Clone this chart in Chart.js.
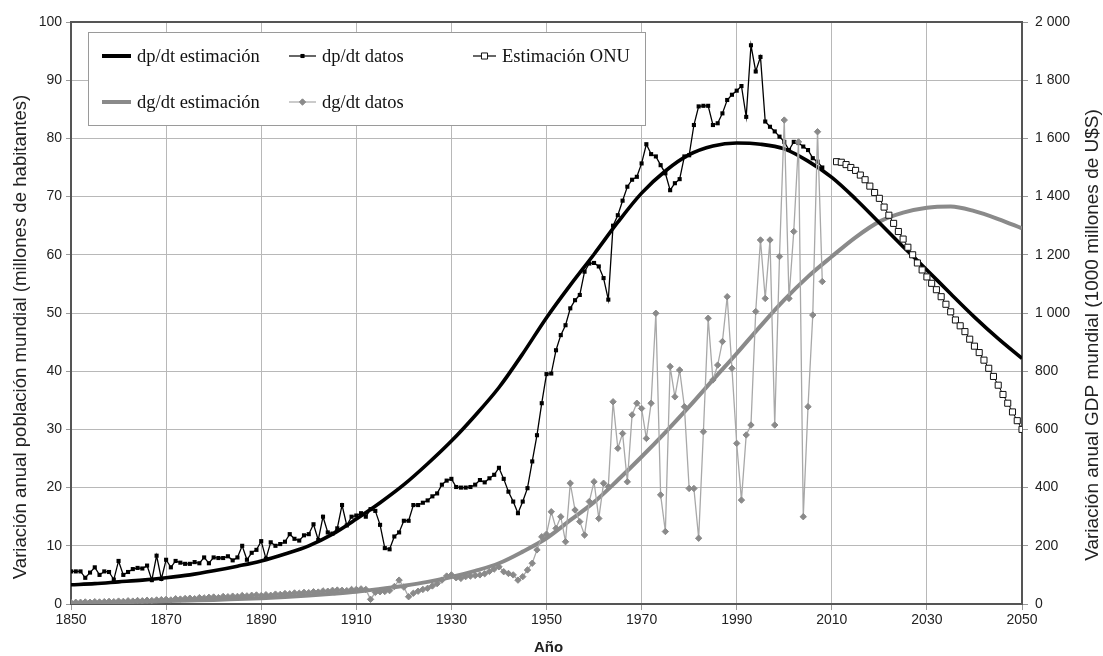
<!DOCTYPE html>
<html><head><meta charset="utf-8">
<script src="https://cdn.jsdelivr.net/npm/chart.js@4.4.0/dist/chart.umd.min.js"></script>
<style>html,body{margin:0;padding:0;background:#fff;}#wrap{width:1103px;height:656px;}</style>
</head><body><div id="wrap"><canvas id="c" width="1103" height="656"></canvas></div>
<script>
// ---- Data ----
const xTickYears = [1850,1870,1890,1910,1930,1950,1970,1990,2010,2030,2050];
const leftTicks = [0,10,20,30,40,50,60,70,80,90,100];
const rightTicks = [0,200,400,600,800,1000,1200,1400,1600,1800,2000];

const estYears = [1850,1855,1860,1865,1870,1875,1880,1885,1890,1895,1900,1905,1910,1915,1920,1925,1930,1935,1940,1945,1950,1955,1960,1965,1970,1975,1980,1985,1990,1995,2000,2005,2010,2015,2020,2025,2030,2035,2040,2045,2050];
const popEstValues = [3.3,3.5,3.8,4.1,4.5,5.0,5.7,6.5,7.4,8.6,10.0,12.0,14.6,17.4,20.5,24.1,28.0,32.4,37.2,43.0,49.2,54.8,60.1,65.6,70.6,74.4,77.2,78.7,79.2,79.0,78.2,76.1,73.3,69.6,65.5,61.4,57.4,53.3,49.3,45.6,42.2];
const gdpEstValues = [3,4,6,8,10,12,14,17,20,24,29,35,42,52,63,76,93,114,140,180,226,288,350,426,506,590,678,770,861,955,1045,1125,1194,1260,1314,1345,1362,1366,1350,1323,1291];

const dataStartYear = 1850;
const popDataValues = [
 5.6,5.6,5.6,4.5,5.4,6.3,5.0,5.6,5.5,4.2,
 7.4,5.0,5.5,6.0,6.2,6.1,6.6,4.1,8.3,4.3,
 7.6,6.3,7.4,7.1,6.9,6.9,7.2,7.0,8.0,7.0,
 8.0,7.9,7.9,8.2,7.5,8.0,10.0,7.6,8.8,9.3,
 10.8,7.8,10.6,10.0,10.3,10.7,12.0,11.2,10.9,11.8,
 12.0,13.7,11.0,15.0,12.3,12.1,13.0,17.0,13.5,15.0,
 15.2,15.6,15.0,16.3,16.0,13.6,9.6,9.4,11.6,12.3,
 14.3,14.3,17.0,17.0,17.4,17.8,18.5,19.0,20.5,21.2,
 21.5,20.1,20.0,20.0,20.1,20.5,21.3,20.9,21.6,22.2,
 23.4,21.5,19.3,17.6,15.6,17.6,19.9,24.5,29.0,34.5,
 39.5,39.6,43.6,46.2,47.9,50.8,52.2,53.1,57.1,58.5,
 58.6,58.0,56.0,52.3,65.0,66.8,69.3,71.7,72.9,73.4,
 75.7,79.0,77.3,76.9,75.4,74.0,71.1,72.3,73.0,76.9,
 77.1,82.3,85.5,85.6,85.6,82.3,82.6,84.3,86.6,87.5,
 88.2,89.0,83.7,96.0,91.5,94.0,82.9,82.0,81.2,80.3,
 79.4,78.0,79.4,79.2,78.6,78.0,76.6,76.0,75.0];
const gdpDataValues = [
 5,6,6,7,6,8,7,8,9,8,
 10,9,11,10,12,11,13,12,14,15,
 16,14,18,17,19,20,18,22,21,23,
 24,22,26,25,27,26,29,28,30,31,
 29,32,30,34,33,36,35,38,37,40,
 39,42,41,45,44,47,48,47,46,50,
 50,52,50,16,40,42,43,46,60,82,
 58,25,37,44,50,54,62,70,82,96,
 100,90,88,94,96,98,100,104,112,120,
 128,111,105,100,82,94,117,140,186,231,
 240,317,260,300,214,415,323,283,237,352,
 420,294,415,403,695,535,586,420,650,690,
 672,569,690,999,375,249,816,712,804,678,
 397,397,226,592,982,770,821,902,1056,810,
 552,357,581,615,1005,1251,1050,1251,615,1194,
 1663,1050,1280,1588,300,678,993,1623,1108];

const onuStartYear = 2011;
const onuValues = [76.0,75.9,75.5,75.0,74.5,73.7,72.9,71.8,70.7,69.7,68.2,66.8,65.4,64.0,62.7,61.3,60.0,58.6,57.4,56.2,55.1,54.0,52.8,51.5,50.2,48.8,47.8,46.8,45.5,44.3,43.2,41.9,40.5,39.1,37.6,36.0,34.5,33.0,31.5,30.0];

const leftTitle = 'Variación anual población mundial (millones de habitantes)';
const rightTitle = 'Variación anual GDP mundial (1000 millones de U$S)';
const xTitle = 'Año';

// ---- build points ----
const pts = (years, vals) => vals.map((v, i) => ({x: years[i], y: v}));
const seq = (start, vals) => vals.map((v, i) => ({x: start + i, y: v}));

const SANS = '"Liberation Sans", Arial, sans-serif';
const SERIF = '"Liberation Serif", "Times New Roman", serif';
const BLACK = '#000000', GRAY = '#8a8a8a', GRAYLINE = '#a8a8a8';

const datasets = [
  {label: 'Estimación ONU', data: seq(onuStartYear, onuValues), yAxisID: 'y', order: 0,
   borderColor: BLACK, borderWidth: 1, pointStyle: 'rect', pointRadius: 4.3, pointBackgroundColor: '#fff',
   pointBorderColor: '#111', pointBorderWidth: 1, tension: 0},
  {label: 'dg/dt datos', data: seq(dataStartYear, gdpDataValues), yAxisID: 'y1', order: 1,
   borderColor: GRAYLINE, borderWidth: 1.3, pointStyle: 'rectRot', pointRadius: 3.2, pointBackgroundColor: GRAY,
   pointBorderColor: GRAY, pointBorderWidth: 1, tension: 0},
  {label: 'dp/dt datos', data: seq(dataStartYear, popDataValues), yAxisID: 'y', order: 2,
   borderColor: BLACK, borderWidth: 1.3, pointStyle: 'rect', pointRadius: 2.9, pointBackgroundColor: BLACK,
   pointBorderColor: BLACK, pointBorderWidth: 0, tension: 0},
  {label: 'dp/dt estimación', data: pts(estYears, popEstValues), yAxisID: 'y', order: 3,
   borderColor: BLACK, borderWidth: 3.6, pointRadius: 0, tension: 0.4, cubicInterpolationMode: 'monotone'},
  {label: 'dg/dt estimación', data: pts(estYears, gdpEstValues), yAxisID: 'y1', order: 4,
   borderColor: GRAY, borderWidth: 4, pointRadius: 0, tension: 0.4, cubicInterpolationMode: 'monotone'}
];

// legend layout (style only)
const legendSlots = {
  'dp/dt estimación': {row: 0, x0: 102, x1: 131, kind: 'thick'},
  'dp/dt datos': {row: 0, x0: 289, x1: 316, kind: 'marker'},
  'Estimación ONU': {row: 0, x0: 473, x1: 496, kind: 'marker'},
  'dg/dt estimación': {row: 1, x0: 102, x1: 131, kind: 'thick'},
  'dg/dt datos': {row: 1, x0: 289, x1: 316, kind: 'marker'}
};
const legendRowsY = [56, 102];

function drawMarker(ctx, style, x, y, r, fill, stroke, bw) {
  ctx.beginPath();
  if (style === 'rect') {
    const s = Math.SQRT1_2 * r;
    ctx.rect(x - s, y - s, 2 * s, 2 * s);
  } else {
    ctx.moveTo(x - r, y); ctx.lineTo(x, y - r); ctx.lineTo(x + r, y); ctx.lineTo(x, y + r); ctx.closePath();
  }
  ctx.fillStyle = fill; ctx.fill();
  if (bw > 0) { ctx.lineWidth = bw; ctx.strokeStyle = stroke; ctx.stroke(); }
}

const framePlugin = {
  id: 'frame',
  afterDraw(chart) {
    const {ctx, chartArea: a} = chart;
    ctx.save();
    // top border of the plot frame
    ctx.strokeStyle = '#555'; ctx.lineWidth = 2;
    ctx.beginPath(); ctx.moveTo(a.left - 1, a.top); ctx.lineTo(a.right + 1, a.top); ctx.stroke();

    // legend box
    ctx.fillStyle = '#fff'; ctx.fillRect(88.5, 32.5, 557, 93);
    ctx.strokeStyle = '#9a9a9a'; ctx.lineWidth = 1; ctx.strokeRect(88.5, 32.5, 557, 93);
    ctx.font = '18.5px ' + SERIF; ctx.textBaseline = 'middle'; ctx.textAlign = 'left'; ctx.fillStyle = '#111';
    chart.data.datasets.forEach(ds => {
      const slot = legendSlots[ds.label]; if (!slot) return;
      const y = legendRowsY[slot.row];
      ctx.strokeStyle = ds.borderColor;
      ctx.lineWidth = slot.kind === 'thick' ? 4 : 1.2;
      ctx.beginPath(); ctx.moveTo(slot.x0, y); ctx.lineTo(slot.x1, y); ctx.stroke();
      if (slot.kind === 'marker') {
        drawMarker(ctx, ds.pointStyle, (slot.x0 + slot.x1) / 2, y, ds.pointRadius,
          ds.pointBackgroundColor, ds.pointBorderColor, ds.pointBorderWidth);
      }
      ctx.fillStyle = '#111';
      ctx.fillText(ds.label, slot.x1 + 6, y + 1);
    });

    // axis titles
    ctx.fillStyle = '#222';
    ctx.textAlign = 'center'; ctx.textBaseline = 'middle';
    ctx.font = '18.6px ' + SANS;
    ctx.save(); ctx.translate(21, 337); ctx.rotate(-Math.PI / 2); ctx.fillText(leftTitle, 0, 0); ctx.restore();
    ctx.font = '19px ' + SANS;
    ctx.save(); ctx.translate(1093, 335); ctx.rotate(-Math.PI / 2); ctx.fillText(rightTitle, 0, 0); ctx.restore();
    ctx.font = 'bold 15px ' + SANS;
    ctx.fillText(xTitle, (a.left + a.right) / 2 + 2, 648);
    ctx.restore();
  }
};

const fmtRight = v => v >= 1000 ? Math.floor(v / 1000) + ' ' + String(v % 1000).padStart(3, '0') : String(v);

new Chart(document.getElementById('c'), {
  type: 'line',
  data: {datasets},
  options: {
    responsive: false, animation: false,
    layout: {padding: {top: 22, left: 0, right: 0, bottom: 0}},
    plugins: {legend: {display: false}, tooltip: {enabled: false}},
    scales: {
      x: {
        type: 'linear', min: 1850, max: 2050,
        afterBuildTicks: s => { s.ticks = xTickYears.map(v => ({value: v})); },
        afterFit: s => { s.height = 52; },
        grid: {color: '#b8b8b8', lineWidth: 1, tickLength: 6, tickColor: '#999'},
        border: {color: '#555', width: 2},
        ticks: {autoSkip: false, maxRotation: 0, padding: 2, color: '#222', font: {family: SANS, size: 14},
          callback: v => String(v)}
      },
      y: {
        position: 'left', min: 0, max: 100,
        afterBuildTicks: s => { s.ticks = leftTicks.map(v => ({value: v})); },
        afterFit: s => { s.width = 71; },
        grid: {color: '#b8b8b8', lineWidth: 1, tickLength: 5, tickColor: '#999'},
        border: {color: '#555', width: 2},
        ticks: {padding: 4, color: '#222', font: {family: SANS, size: 14}, callback: v => String(v)}
      },
      y1: {
        position: 'right', min: 0, max: 2000,
        afterBuildTicks: s => { s.ticks = rightTicks.map(v => ({value: v})); },
        afterFit: s => { s.width = 81; },
        grid: {drawOnChartArea: false, tickLength: 6, tickColor: '#999'},
        border: {color: '#555', width: 2},
        ticks: {padding: 7, color: '#222', font: {family: SANS, size: 14}, callback: v => fmtRight(v)}
      }
    }
  },
  plugins: [framePlugin]
});
</script>
</body></html>
